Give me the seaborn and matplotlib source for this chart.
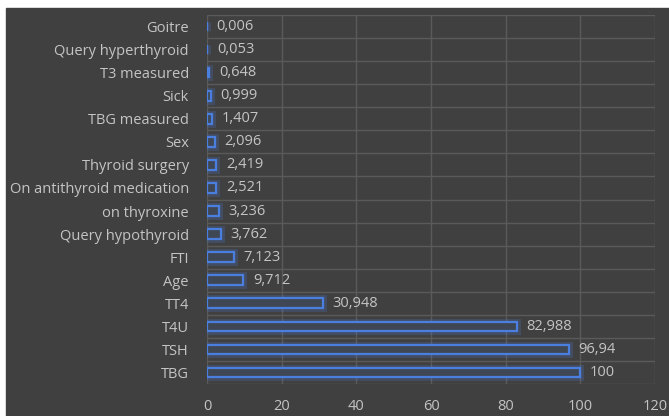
import matplotlib
matplotlib.use("Agg")
import matplotlib.pyplot as plt
import matplotlib.patheffects as pe
import numpy as np
import pandas as pd
import seaborn as sns

features = [
    "Goitre", "Query hyperthyroid", "T3 measured", "Sick", "TBG measured",
    "Sex", "Thyroid surgery", "On antithyroid medication", "on thyroxine",
    "Query hypothyroid", "FTI", "Age", "TT4", "T4U", "TSH", "TBG",
]
importance = [
    0.006, 0.053, 0.648, 0.999, 1.407, 2.096, 2.419, 2.521, 3.236,
    3.762, 7.123, 9.712, 30.948, 82.988, 96.94, 100,
]
value_labels = [
    "0,006", "0,053", "0,648", "0,999", "1,407", "2,096", "2,419", "2,521",
    "3,236", "3,762", "7,123", "9,712", "30,948", "82,988", "96,94", "100",
]

bg = "#404040"
grid = "#5a5a5a"
text = "#c4c4c4"
blue = "#4a7fe0"

sns.set_style("dark")
plt.rcParams["font.family"] = ["Open Sans", "DejaVu Sans"]

df = pd.DataFrame({"Feature": features, "Importance": importance})

fig = plt.figure(figsize=(6.69, 4.16), dpi=100, facecolor="white")
fig.patches.append(plt.Rectangle((6 / 669, 0), 1, 1 - 8 / 416,
                                 transform=fig.transFigure, color=bg, zorder=-10))
ax = fig.add_axes([207 / 669, 1 - 384 / 416, 448 / 669, 369 / 416])
ax.set_facecolor(bg)

sns.barplot(data=df, y="Feature", x="Importance", orient="h", ax=ax,
            color="#3b4658", edgecolor=blue, linewidth=1.6, width=0.42,
            zorder=3)
for bar in ax.patches:
    bar.set_path_effects([
        pe.Stroke(linewidth=5, foreground=blue, alpha=0.22),
        pe.Normal(),
    ])

ax.bar_label(ax.containers[0], labels=value_labels, padding=7,
             color=text, fontsize=10.5)

ax.set_xlim(0, 120)
ax.set_xticks(np.arange(0, 121, 20))
ax.set_ylim(len(features) - 0.5, -0.5)
ax.set_yticks(np.arange(-0.5, len(features), 1), minor=True)
ax.grid(False)
ax.grid(axis="x", which="major", color=grid, linewidth=1, zorder=0)
ax.grid(axis="y", which="minor", color=grid, linewidth=1, zorder=0)
ax.tick_params(axis="both", which="both", length=0, colors=text, labelsize=10.5)
ax.tick_params(axis="y", pad=13)
ax.tick_params(axis="x", pad=11)
for s in ax.spines.values():
    s.set_visible(False)
ax.set_xlabel("")
ax.set_ylabel("")

fig.savefig("out.png", dpi=100, facecolor="white")
